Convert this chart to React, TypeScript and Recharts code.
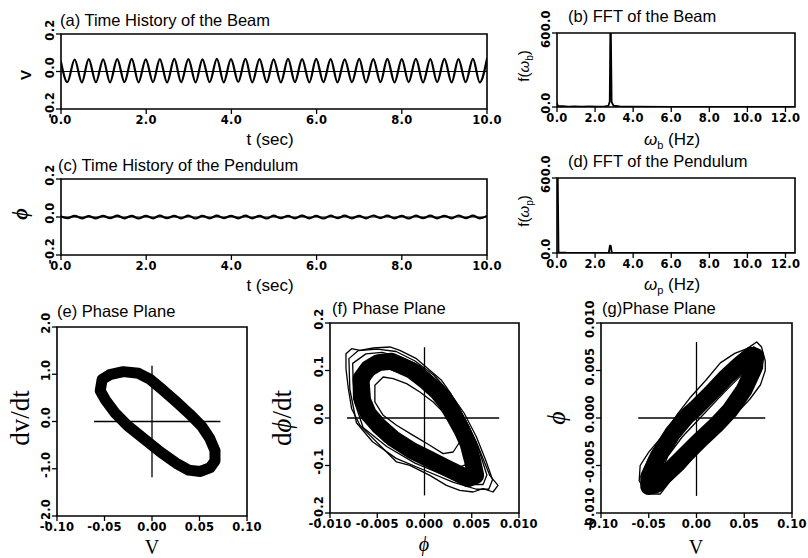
import React from "react";
import { ScatterChart, Scatter, XAxis, YAxis, ReferenceArea, ReferenceLine } from "recharts";

// (a) beam tip displacement: successive extrema [t (sec), V]
const beamHistory = [
  [0, 0.05], [0.15, -0.057], [0.32, 0.064], [0.49, -0.058], [0.65, 0.066], [0.82, -0.057],
  [0.99, 0.065], [1.15, -0.058], [1.32, 0.066], [1.49, -0.057], [1.66, 0.067], [1.82, -0.058],
  [1.99, 0.065], [2.16, -0.057], [2.32, 0.066], [2.49, -0.058], [2.66, 0.067], [2.82, -0.057],
  [2.99, 0.066], [3.16, -0.058], [3.32, 0.065], [3.49, -0.057], [3.66, 0.067], [3.82, -0.058],
  [3.99, 0.066], [4.16, -0.056], [4.33, 0.067], [4.49, -0.058], [4.66, 0.066], [4.83, -0.057],
  [4.99, 0.065], [5.16, -0.058], [5.33, 0.067], [5.49, -0.057], [5.66, 0.066], [5.83, -0.058],
  [5.99, 0.067], [6.16, -0.057], [6.33, 0.066], [6.49, -0.058], [6.66, 0.065], [6.83, -0.057],
  [7.0, 0.067], [7.16, -0.058], [7.33, 0.066], [7.5, -0.057], [7.66, 0.067], [7.83, -0.058],
  [8.0, 0.066], [8.16, -0.057], [8.33, 0.067], [8.5, -0.058], [8.67, 0.066], [8.83, -0.057],
  [9.0, 0.067], [9.17, -0.058], [9.33, 0.066], [9.5, -0.057], [9.67, 0.067], [9.83, -0.058],
  [10.0, 0.068],
];

// (c) pendulum angle: successive extrema [t (sec), phi]
const pendulumHistory = [
  [0, 0.002], [0.15, -0.006], [0.32, 0.006], [0.49, -0.007], [0.65, 0.005], [0.82, -0.007],
  [0.99, 0.006], [1.15, -0.006], [1.32, 0.007], [1.49, -0.007], [1.66, 0.006], [1.82, -0.008],
  [1.99, 0.006], [2.16, -0.007], [2.32, 0.007], [2.49, -0.006], [2.66, 0.006], [2.82, -0.007],
  [2.99, 0.007], [3.16, -0.008], [3.32, 0.006], [3.49, -0.007], [3.66, 0.007], [3.82, -0.006],
  [3.99, 0.006], [4.16, -0.007], [4.33, 0.007], [4.49, -0.007], [4.66, 0.006], [4.83, -0.008],
  [4.99, 0.007], [5.16, -0.006], [5.33, 0.006], [5.49, -0.007], [5.66, 0.007], [5.83, -0.007],
  [5.99, 0.006], [6.16, -0.008], [6.33, 0.007], [6.49, -0.006], [6.66, 0.007], [6.83, -0.007],
  [7.0, 0.006], [7.16, -0.007], [7.33, 0.008], [7.5, -0.006], [7.66, 0.007], [7.83, -0.007],
  [8.0, 0.006], [8.16, -0.008], [8.33, 0.007], [8.5, -0.006], [8.67, 0.007], [8.83, -0.007],
  [9.0, 0.006], [9.17, -0.007], [9.33, 0.008], [9.5, -0.006], [9.67, 0.007], [9.83, -0.007],
  [10.0, 0.006],
];

// (b), (d) spectra [Hz, amplitude]
const beamFft = [
  [0, 30], [0.05, 8], [0.3, 6], [0.6, 3], [0.9, 5], [1.3, 3], [1.7, 4], [2.1, 3], [2.5, 4],
  [2.7, 10], [2.77, 45], [2.8, 600], [2.83, 600], [2.87, 40], [2.97, 10], [3.3, 4], [4, 2],
  [6, 1], [8, 1], [10, 1], [12.5, 1],
];
const pendulumFft = [
  [0, 600], [0.04, 600], [0.08, 5], [0.5, 2], [1, 1], [2, 1], [2.72, 2], [2.78, 58],
  [2.82, 58], [2.88, 2], [4, 1], [8, 1], [12.5, 1],
];

// (e) V vs dV/dt, centre line of the dense band
const beamPhaseBand = [
  [-0.0545, 0.65], [-0.0525, 0.89], [-0.0445, 0.99], [-0.0302, 1.055], [-0.0142, 1.02],
  [-0.0018, 0.89], [0.0118, 0.66], [0.0257, 0.413], [0.0395, 0.159], [0.0527, -0.109],
  [0.0609, -0.362], [0.0663, -0.616], [0.0663, -0.833], [0.0613, -0.978], [0.051, -1.058],
  [0.0385, -1.029], [0.0267, -0.898], [0.0092, -0.652], [-0.0082, -0.369], [-0.0257, -0.087],
  [-0.0392, 0.189], [-0.0488, 0.449],
];

// (f) phi vs dphi/dt
const pendPhaseBand = [
  [-0.00673, 0.0828], [-0.00595, 0.1039], [-0.00489, 0.1165], [-0.00349, 0.1193],
  [-0.00137, 0.1004], [0.00004, 0.0793], [0.00134, 0.0561], [0.00225, 0.0337],
  [0.0031, 0.0056], [0.00398, -0.026], [0.00461, -0.054], [0.00507, -0.0891],
  [0.00542, -0.1207], [0.00461, -0.1277], [0.00356, -0.1172], [0.00215, -0.1032],
  [0.00039, -0.0856], [-0.00137, -0.0681], [-0.00331, -0.0435], [-0.00489, -0.0154],
  [-0.00595, 0.0091], [-0.00655, 0.0372],
];
const pendPhaseOuter = [
  [-0.00831, 0.1354], [-0.00771, 0.146], [-0.00683, 0.1425], [-0.00542, 0.1474],
  [-0.00366, 0.1495], [-0.00261, 0.1425], [-0.00085, 0.1249], [0.00056, 0.1004],
  [0.0018, 0.0793], [0.00268, 0.0547], [0.00373, 0.0196], [0.00461, -0.0154],
  [0.00549, -0.0505], [0.0062, -0.0856], [0.0069, -0.1207], [0.00778, -0.1418],
  [0.00725, -0.1558], [0.0062, -0.1488], [0.00514, -0.1558], [0.00373, -0.1523],
  [0.00232, -0.1418], [0.00056, -0.1207], [-0.00155, -0.0996], [-0.00296, -0.0926],
  [-0.00401, -0.0716], [-0.00577, -0.0365], [-0.00683, -0.0154], [-0.00771, 0.0196],
  [-0.00806, 0.0618], [-0.00831, 0.1039],
];
const pendPhaseInner = [
  [-0.00525, 0.0688], [-0.00437, 0.0863], [-0.00331, 0.0828], [-0.0019, 0.0723],
  [-0.00049, 0.0547], [0.00092, 0.0337], [0.00232, 0.0056], [0.00338, -0.0225],
  [0.00373, -0.0505], [0.00303, -0.0716], [0.00197, -0.0751], [0.00056, -0.0575],
  [-0.0012, -0.0365], [-0.00296, -0.0154], [-0.00437, 0.0056], [-0.00525, 0.0337],
];
const pendPhaseMid1 = [
  [-0.0076, 0.115], [-0.0062, 0.135], [-0.0045, 0.138], [-0.0025, 0.128], [-0.0005, 0.11],
  [0.0015, 0.075], [0.003, 0.04], [0.0045, -0.01], [0.0058, -0.07], [0.0066, -0.12],
  [0.0062, -0.14], [0.0045, -0.14], [0.002, -0.12], [-0.001, -0.095], [-0.004, -0.06],
  [-0.0065, -0.02], [-0.0075, 0.04],
];
const pendPhaseMid2 = [
  [-0.0062, 0.06], [-0.0055, 0.095], [-0.004, 0.105], [-0.002, 0.09], [0.0005, 0.065],
  [0.002, 0.035], [0.0035, -0.005], [0.0045, -0.045], [0.0048, -0.095], [0.0035, -0.105],
  [0.0015, -0.09], [-0.001, -0.07], [-0.0035, -0.045], [-0.0055, -0.015],
];
const pendPhaseMid3 = [
  [-0.008, 0.125], [-0.007, 0.142], [-0.005, 0.145], [-0.003, 0.14], [-0.001, 0.12],
  [0.001, 0.09], [0.0028, 0.05], [0.0042, 0.01], [0.0055, -0.04], [0.0065, -0.09],
  [0.0072, -0.13], [0.0068, -0.15], [0.0055, -0.15], [0.003, -0.135], [0.0, -0.11],
  [-0.003, -0.085], [-0.0055, -0.05], [-0.0072, -0.01], [-0.0079, 0.06],
];
const pendPhaseMid4 = [
  [-0.0068, 0.09], [-0.006, 0.12], [-0.0045, 0.128], [-0.0028, 0.12], [-0.001, 0.1],
  [0.0008, 0.07], [0.0025, 0.03], [0.004, -0.02], [0.005, -0.07], [0.0058, -0.11],
  [0.005, -0.13], [0.0035, -0.13], [0.001, -0.105], [-0.0015, -0.08], [-0.0042, -0.05],
  [-0.006, -0.01], [-0.0068, 0.03],
];

// (g) V vs phi
const couplingBand = [
  [-0.05, -0.0062], [-0.04, -0.004], [-0.025, -0.0016], [-0.01, 0.0002], [0.0, 0.0011],
  [0.015, 0.0026], [0.03, 0.0042], [0.045, 0.0056], [0.057, 0.0066], [0.062, 0.0065],
  [0.06, 0.0052], [0.05, 0.003], [0.035, 0.0008], [0.02, -0.0008], [0.005, -0.0022],
  [0.0, -0.0027], [-0.015, -0.0042], [-0.03, -0.0057], [-0.042, -0.007], [-0.05, -0.0072],
];
const couplingOuter = [
  [0.063, 0.008], [0.068, 0.0075], [0.072, 0.006], [0.072, 0.005], [0.067, 0.0035],
  [0.056, 0.002], [0.043, 0.0006], [0.029, -0.0008], [0.014, -0.0023], [0.0, -0.0038],
  [-0.014, -0.0054], [-0.028, -0.0067], [-0.038, -0.008], [-0.047, -0.008], [-0.055, -0.0075],
  [-0.06, -0.0066], [-0.059, -0.005], [-0.05, -0.0036], [-0.035, -0.0018], [-0.02, 0.0004],
  [-0.007, 0.0021], [0.01, 0.004], [0.025, 0.0058], [0.04, 0.0068], [0.053, 0.0073],
];
const couplingInner = [
  [0.06, 0.0058], [0.05, 0.0035], [0.035, 0.0015], [0.02, -0.0002], [0.005, -0.0016],
  [-0.01, -0.003], [-0.025, -0.0046], [-0.038, -0.006], [-0.03, -0.004], [-0.015, -0.002],
  [0.0, -0.0004], [0.015, 0.0012], [0.03, 0.0028], [0.045, 0.0043],
];
const couplingMid = [
  [0.055, 0.007], [0.068, 0.0064], [0.064, 0.0044], [0.05, 0.0026], [0.03, 0.0004],
  [0.01, -0.0016], [-0.01, -0.0036], [-0.03, -0.0058], [-0.045, -0.0074], [-0.056, -0.0068],
  [-0.052, -0.005], [-0.04, -0.003], [-0.022, -0.0006], [-0.005, 0.0016], [0.015, 0.0036],
  [0.035, 0.0056],
];
const couplingMid2 = [
  [0.06, 0.0075], [0.07, 0.0068], [0.069, 0.0052], [0.058, 0.0034], [0.04, 0.0012],
  [0.02, -0.001], [0.0, -0.003], [-0.02, -0.0052], [-0.038, -0.0072], [-0.05, -0.0078],
  [-0.058, -0.0062], [-0.05, -0.0042], [-0.035, -0.0022], [-0.015, 0.0002], [0.005, 0.0026],
  [0.025, 0.0048], [0.045, 0.0064],
];

// cross-hair extents drawn through the phase planes: [xMin, xMax, yMin, yMax]
const beamCross = [-0.061, 0.072, -1.18, 1.18];
const pendCross = [-0.0082, 0.0079, -0.163, 0.149];
const couplingCross = [-0.061, 0.072, -0.0082, 0.008];

const timeTicks = [0, 2, 4, 6, 8, 10];
const historyTicks = [-0.2, 0, 0.2];
const freqTicks = [0, 2, 4, 6, 8, 10, 12];
const fftTicks = [0, 600];
const dispTicks = [-0.1, -0.05, 0, 0.05, 0.1];
const dispRateTicks = [-2, -1, 0, 1, 2];
const angleTicks = [-0.01, -0.005, 0, 0.005, 0.01];
const angleRateTicks = [-0.2, -0.1, 0, 0.1, 0.2];

const sans = "'Liberation Sans', Arial, sans-serif";
const tickFont = "'DejaVu Sans', 'Liberation Sans', sans-serif";
const serif = "'Liberation Serif', 'DejaVu Serif', serif";

const pts = (arr: number[][]) => arr.map(([x, y]) => ({ x, y }));
const noDot = () => <g />;

// room around each frame so rotated tick labels are not clipped
const ML = 40;
const MT = 26;
const MR = 24;
const MB = 26;

function XTick({ x, y, payload, digits }: any) {
  return (
    <text x={x} y={y} dy="0.72em" textAnchor="middle" fontFamily={tickFont} fontWeight={700} fontSize={11.5} letterSpacing={0.3} fill="#000">
      {Number(payload.value).toFixed(digits)}
    </text>
  );
}

function YTick({ x, y, payload, digits }: any) {
  return (
    <text x={x} y={y - 4} transform={`rotate(-90 ${x} ${y - 4})`} textAnchor="middle" fontFamily={tickFont} fontWeight={700} fontSize={11.5} letterSpacing={0.3} fill="#000">
      {Number(payload.value).toFixed(digits)}
    </text>
  );
}

function Panel({ left, top, w, h, xDomain, yDomain, xTicks, yTicks, xDigits, yDigits, children }: any) {
  return (
    <div style={{ position: "absolute", left: left - ML, top: top - MT }}>
      <ScatterChart width={w + ML + MR} height={h + MT + MB} margin={{ top: MT, right: MR, bottom: 0, left: 0 }}>
        <XAxis
          type="number"
          dataKey="x"
          domain={xDomain}
          ticks={xTicks}
          interval={0}
          allowDataOverflow
          height={MB}
          axisLine={false}
          tickSize={5}
          tickLine={{ stroke: "#000", strokeWidth: 1.3 }}
          tick={(p: any) => <XTick {...p} digits={xDigits} />}
        />
        <YAxis
          type="number"
          dataKey="y"
          domain={yDomain}
          ticks={yTicks}
          interval={0}
          allowDataOverflow
          width={ML}
          axisLine={false}
          tickSize={5}
          tickLine={{ stroke: "#000", strokeWidth: 1.3 }}
          tick={(p: any) => <YTick {...p} digits={yDigits} />}
        />
        <ReferenceArea x1={xDomain[0]} x2={xDomain[1]} y1={yDomain[0]} y2={yDomain[1]} fill="none" fillOpacity={0} stroke="#000" strokeWidth={1.6} />
        {children}
      </ScatterChart>
    </div>
  );
}

function trace(data: number[][], width: number, curve: string, key: string) {
  return (
    <Scatter
      key={key}
      data={pts(data)}
      line={{ stroke: "#000", strokeWidth: width, strokeLinejoin: "round", strokeLinecap: "round" }}
      lineJointType={curve as any}
      shape={noDot}
      fill="#000"
      isAnimationActive={false}
    />
  );
}

function cross(c: number[], key: string) {
  return [
    <ReferenceLine key={key + "v"} segment={[{ x: 0, y: c[2] }, { x: 0, y: c[3] }]} stroke="#000" strokeWidth={1.3} />,
    <ReferenceLine key={key + "h"} segment={[{ x: c[0], y: 0 }, { x: c[1], y: 0 }]} stroke="#000" strokeWidth={1.3} />,
  ];
}

function Labels() {
  const title = { fontFamily: sans, fontSize: 16.5, fill: "#000" };
  const axis = { fontFamily: sans, fontSize: 17, fill: "#000" };
  return (
    <svg width={808} height={558} style={{ position: "absolute", left: 0, top: 0, pointerEvents: "none" }}>
      <text x={60} y={26} {...title}>(a) Time History of the Beam</text>
      <text x={568} y={22} {...title}>(b) FFT of the Beam</text>
      <text x={58} y={171} {...title}>(c) Time History of the Pendulum</text>
      <text x={568} y={167} {...title}>(d) FFT of the Pendulum</text>
      <text x={57} y={317} {...title}>(e) Phase Plane</text>
      <text x={332} y={314} {...title}>(f) Phase Plane</text>
      <text x={602} y={314} {...title}>(g)Phase Plane</text>

      <text x={270} y={145} textAnchor="middle" {...axis}>t (sec)</text>
      <text x={270} y={291} textAnchor="middle" {...axis}>t (sec)</text>
      <text x={672} y={145} textAnchor="middle" {...axis} fontStyle="italic">
        ω<tspan dy={4} fontSize={11} fontStyle="normal">b</tspan>
        <tspan dy={-4} fontStyle="normal"> (Hz)</tspan>
      </text>
      <text x={672} y={290} textAnchor="middle" {...axis} fontStyle="italic">
        ω<tspan dy={4} fontSize={11} fontStyle="normal">p</tspan>
        <tspan dy={-4} fontStyle="normal"> (Hz)</tspan>
      </text>

      <text transform="translate(31,75) rotate(-90)" textAnchor="middle" fontFamily={sans} fontWeight={700} fontSize={15}>V</text>
      <text transform="translate(27,214) rotate(-90)" textAnchor="middle" fontFamily={serif} fontStyle="italic" fontWeight={700} fontSize={20}>ϕ</text>
      <text transform="translate(529,66) rotate(-90)" textAnchor="middle" fontFamily={sans} fontSize={15}>
        f(<tspan fontStyle="italic">ω</tspan><tspan dy={4} fontSize={10}>b</tspan><tspan dy={-4}>)</tspan>
      </text>
      <text transform="translate(529,211) rotate(-90)" textAnchor="middle" fontFamily={sans} fontSize={15}>
        f(<tspan fontStyle="italic">ω</tspan><tspan dy={4} fontSize={10}>p</tspan><tspan dy={-4}>)</tspan>
      </text>

      <text transform="translate(29,418) rotate(-90)" textAnchor="middle" fontFamily={serif} fontSize={27}>dv/dt</text>
      <text transform="translate(291,418) rotate(-90)" textAnchor="middle" fontFamily={serif} fontSize={27}>
        d<tspan fontStyle="italic">ϕ</tspan>/dt
      </text>
      <text transform="translate(565,418) rotate(-90)" textAnchor="middle" fontFamily={serif} fontStyle="italic" fontSize={26}>ϕ</text>

      <text x={152} y={554} textAnchor="middle" fontFamily={serif} fontSize={20}>V</text>
      <text x={424} y={551} textAnchor="middle" fontFamily={serif} fontStyle="italic" fontSize={20}>ϕ</text>
      <text x={696} y={554} textAnchor="middle" fontFamily={serif} fontSize={20}>V</text>
    </svg>
  );
}

export default function App() {
  return (
    <div style={{ position: "absolute", left: 0, top: 0, width: 808, height: 558, background: "#fff", overflow: "hidden" }}>
      <Panel left={61} top={34} w={426} h={75} xDomain={[0, 10]} yDomain={[-0.2, 0.2]} xTicks={timeTicks} yTicks={historyTicks} xDigits={1} yDigits={1}>
        {[
          <ReferenceLine key="z" y={0} stroke="#000" strokeWidth={1} />,
          trace(beamHistory, 2.2, "monotoneX", "beam"),
        ]}
      </Panel>
      <Panel left={557} top={33} w={238} h={74} xDomain={[0, 12.5]} yDomain={[0, 600]} xTicks={freqTicks} yTicks={fftTicks} xDigits={1} yDigits={1}>
        {[trace(beamFft, 1.8, "linear", "bfft")]}
      </Panel>
      <Panel left={61} top={179} w={426} h={76} xDomain={[0, 10]} yDomain={[-0.2, 0.2]} xTicks={timeTicks} yTicks={historyTicks} xDigits={1} yDigits={1}>
        {[
          <ReferenceLine key="z" y={0} stroke="#000" strokeWidth={1} />,
          trace(pendulumHistory, 2.2, "monotoneX", "pend"),
        ]}
      </Panel>
      <Panel left={557} top={178} w={238} h={75} xDomain={[0, 12.5]} yDomain={[0, 600]} xTicks={freqTicks} yTicks={fftTicks} xDigits={1} yDigits={1}>
        {[trace(pendulumFft, 1.8, "linear", "pfft")]}
      </Panel>
      <Panel left={57} top={327} w={190} h={189} xDomain={[-0.1, 0.1]} yDomain={[-2, 2]} xTicks={dispTicks} yTicks={dispRateTicks} xDigits={2} yDigits={1}>
        {[...cross(beamCross, "e"), trace(beamPhaseBand, 11, "linearClosed", "eband")]}
      </Panel>
      <Panel left={330} top={323} w={189} h={190} xDomain={[-0.01, 0.01]} yDomain={[-0.2, 0.2]} xTicks={angleTicks} yTicks={angleRateTicks} xDigits={3} yDigits={1}>
        {[
          ...cross(pendCross, "f"),
          trace(pendPhaseBand, 17, "linearClosed", "fband"),
          trace(pendPhaseOuter, 1.3, "linearClosed", "fo"),
          trace(pendPhaseMid3, 1.3, "linearClosed", "f3"),
          trace(pendPhaseMid1, 1.3, "linearClosed", "f1"),
          trace(pendPhaseMid4, 1.3, "linearClosed", "f4"),
          trace(pendPhaseMid2, 1.3, "linearClosed", "f2"),
          trace(pendPhaseInner, 1.3, "linearClosed", "fi"),
        ]}
      </Panel>
      <Panel left={601} top={323} w={191} h={190} xDomain={[-0.1, 0.1]} yDomain={[-0.01, 0.01]} xTicks={dispTicks} yTicks={angleTicks} xDigits={2} yDigits={3}>
        {[
          ...cross(couplingCross, "g"),
          trace(couplingBand, 17, "linearClosed", "gband"),
          trace(couplingOuter, 1.3, "linearClosed", "go"),
          trace(couplingMid2, 1.3, "linearClosed", "gm2"),
          trace(couplingMid, 1.3, "linearClosed", "gm"),
          trace(couplingInner, 1.3, "linearClosed", "gi"),
        ]}
      </Panel>
      <Labels />
    </div>
  );
}
